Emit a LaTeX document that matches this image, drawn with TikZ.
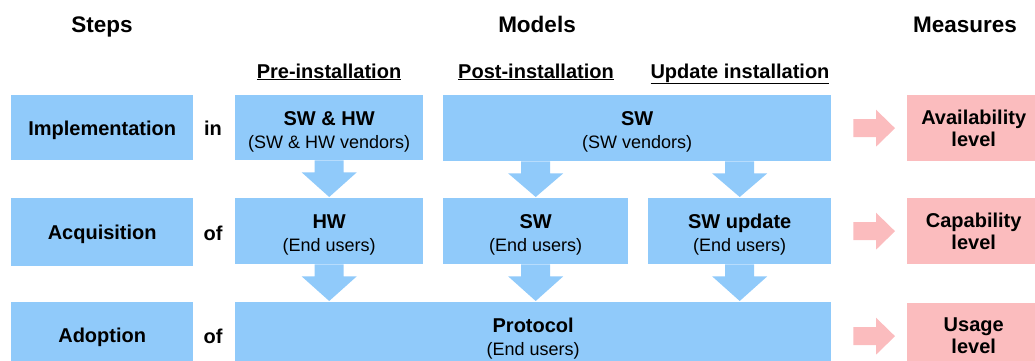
\documentclass[tikz,border=0pt]{standalone}
\usepackage{fontspec}
\setmainfont{Liberation Sans}
\usetikzlibrary{calc}
\definecolor{boxblue}{RGB}{144,202,250}
\definecolor{boxpink}{RGB}{251,188,190}
\tikzset{
  bx/.style={draw=none, inner sep=0pt, align=center, anchor=north west},
  bluebox/.style={bx, fill=boxblue, font=\fontsize{18}{23}\selectfont},
  stepbox/.style={bx, fill=boxblue, font=\bfseries\fontsize{20}{24}\selectfont,
    execute at begin node={\rule{0pt}{19.5pt}}},
  pinkbox/.style={bx, fill=boxpink, font=\bfseries\fontsize{20}{22}\selectfont,
    execute at begin node={\rule{0pt}{19.5pt}}},
  title/.style={anchor=base, inner sep=0pt, font=\bfseries\fontsize{22.5}{27}\selectfont},
  subtitle/.style={anchor=base, inner sep=0pt, font=\bfseries\fontsize{20}{24}\selectfont},
  conj/.style={anchor=base, inner sep=0pt, font=\bfseries\fontsize{20}{24}\selectfont},
}
\newcommand\bb[1]{{\bfseries\fontsize{20}{23}\selectfont\rule{0pt}{22pt}#1}}
\newcommand\dnarrow[3]{\fill[boxblue] let \p1=(#3), \p2=(#1.south), \p3=(#2.north) in
  (\x1-14.5pt,\y2) -- (\x1+14.5pt,\y2) -- (\x1+14.5pt,\y2-12pt) -- (\x1+27.5pt,\y2-12pt)
  -- (\x1,\y3+1pt) -- (\x1-27.5pt,\y2-12pt) -- (\x1-14.5pt,\y2-12pt) -- cycle;}
\newcommand\rtarrow[2]{\fill[boxpink] let \p1=(#2.west), \p2=(#1.east) in
  (\x2+22pt,\y1+9pt) -- (\x1-31pt,\y1+9pt) -- (\x1-31pt,\y1+18.5pt) -- (\x1-12pt,\y1)
  -- (\x1-31pt,\y1-18.5pt) -- (\x1-31pt,\y1-9pt) -- (\x2+22pt,\y1-9pt) -- cycle;}
\begin{document}
\begin{tikzpicture}[x=1pt,y=-1pt]
\useasboundingbox (0,0) rectangle (1035,361);
\clip (0,0) rectangle (1035,361);
% titles
\node[title] (tsteps) at (102,33) {Steps};
\node[title] (tmodels) at (537,33) {Models};
\node[title] (tmeas) at (965,33) {Measures};
\node[subtitle] (tpre) at (329,78) {\underline{Pre-installation}};
\node[subtitle] (tpost) at (536,78) {\underline{Post-installation}};
\node[subtitle] (tupd) at (740,78) {\underline{Update installation}};
% steps
\node[stepbox, minimum width=182pt, minimum height=65pt] (impl) at (11,95) {Implementation};
\node[stepbox, minimum width=182pt, minimum height=68pt] (acq) at (11,198) {Acquisition};
\node[stepbox, minimum width=182pt, minimum height=66pt] (adop) at (11,302) {Adoption};
\node[conj] (cin) at (213,135) {in};
\node[conj] (cof1) at (213,240) {of};
\node[conj] (cof2) at (213,343) {of};
% models
\node[bluebox, minimum width=188pt, minimum height=65pt] (pre) at (235,95) {\bb{SW \& HW}\\(SW \& HW vendors)};
\node[bluebox, minimum width=388pt, minimum height=66pt] (sw) at (443,95) {\bb{SW}\\(SW vendors)};
\node[bluebox, minimum width=188pt, minimum height=66pt] (hw) at (235,198) {\bb{HW}\\(End users)};
\node[bluebox, minimum width=185pt, minimum height=66pt] (swe) at (443,198) {\bb{SW}\\(End users)};
\node[bluebox, minimum width=183pt, minimum height=66pt] (swu) at (648,198) {\bb{SW update}\\(End users)};
\node[bluebox, minimum width=596pt, minimum height=66pt] (prot) at (235,302) {\bb{Protocol}\\(End users)};
% measures
\node[pinkbox, minimum width=133pt, minimum height=66pt] (avail) at (907,95) {Availability\\level};
\node[pinkbox, minimum width=133pt, minimum height=66pt] (cap) at (907,198) {Capability\\level};
\node[pinkbox, minimum width=133pt, minimum height=66pt] (usage) at (907,303) {Usage\\level};
% arrows
\dnarrow{pre}{hw}{hw.north}
\dnarrow{sw}{swe}{swe.north}
\dnarrow{sw}{swu}{swu.north}
\dnarrow{hw}{prot}{hw.south}
\dnarrow{swe}{prot}{swe.south}
\dnarrow{swu}{prot}{swu.south}
\rtarrow{sw}{avail}
\rtarrow{swu}{cap}
\rtarrow{prot}{usage}
\end{tikzpicture}
\end{document}
